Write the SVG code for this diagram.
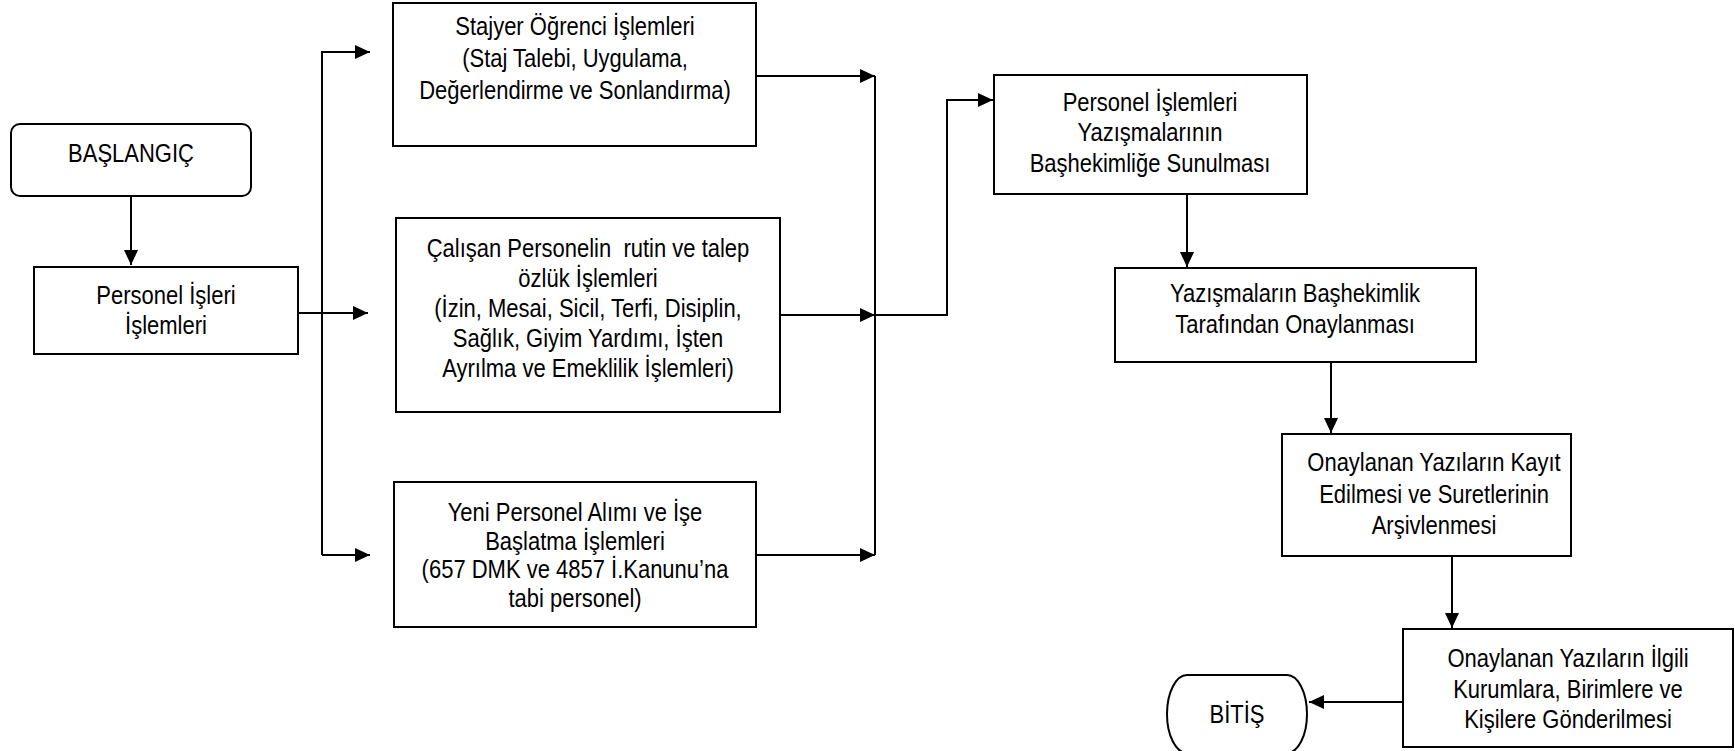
<svg xmlns="http://www.w3.org/2000/svg" width="1735" height="751" viewBox="0 0 1735 751">
<style>
.box{fill:#fff;stroke:#000;stroke-width:2}
.t{font-family:"Liberation Sans",Arial,sans-serif;font-size:25px;fill:#000;text-anchor:middle}
.c{fill:none;stroke:#000;stroke-width:2}
</style>
<defs>
<marker id="ah" markerUnits="userSpaceOnUse" markerWidth="16" markerHeight="14" refX="15" refY="7" orient="auto">
<path d="M0,0 L15,7 L0,14 Z" fill="#000"/>
</marker>
</defs>
<rect width="1735" height="751" fill="#fff"/>
<g id="connectors">
<path class="c" d="M131,196 V265" marker-end="url(#ah)"/>
<path class="c" d="M298,313 H368" marker-end="url(#ah)"/>
<path class="c" d="M322,555 V52 H370" marker-end="url(#ah)"/>
<path class="c" d="M322,555 H370" marker-end="url(#ah)"/>
<path class="c" d="M756,76 H875" marker-end="url(#ah)"/>
<path class="c" d="M780,315 H875" marker-end="url(#ah)"/>
<path class="c" d="M755,555 H875" marker-end="url(#ah)"/>
<path class="c" d="M875,76 V555"/>
<path class="c" d="M875,315 H947 V100 H993" marker-end="url(#ah)"/>
<path class="c" d="M1187,194 V267" marker-end="url(#ah)"/>
<path class="c" d="M1331,362 V433" marker-end="url(#ah)"/>
<path class="c" d="M1452,556 V628" marker-end="url(#ah)"/>
<path class="c" d="M1403,702 H1309" marker-end="url(#ah)"/>
</g>
<g id="start">
<rect class="box" x="11" y="124" width="240" height="72" rx="9"/>
<g transform="translate(131 0) scale(0.88 1)"><text class="t"><tspan x="0" y="162">BAŞLANGIÇ</tspan></text></g>
</g>
<g id="personel-isleri">
<rect class="box" x="34" y="267" width="264" height="87"/>
<g transform="translate(166 0) scale(0.88 1)"><text class="t"><tspan x="0" y="304">Personel İşleri</tspan><tspan x="0" y="334">İşlemleri</tspan></text></g>
</g>
<g id="stajyer">
<rect class="box" x="393" y="3" width="363" height="143"/>
<g transform="translate(575 0) scale(0.88 1)"><text class="t"><tspan x="0" y="35">Stajyer Öğrenci İşlemleri</tspan><tspan x="0" y="67">(Staj Talebi, Uygulama,</tspan><tspan x="0" y="99">Değerlendirme ve Sonlandırma)</tspan></text></g>
</g>
<g id="calisan">
<rect class="box" x="396" y="218" width="384" height="194"/>
<g transform="translate(588 0) scale(0.88 1)"><text class="t" xml:space="preserve"><tspan x="0" y="257">Çalışan Personelin  rutin ve talep</tspan><tspan x="0" y="287">özlük İşlemleri</tspan><tspan x="0" y="317">(İzin, Mesai, Sicil, Terfi, Disiplin,</tspan><tspan x="0" y="347">Sağlık, Giyim Yardımı, İşten</tspan><tspan x="0" y="377">Ayrılma ve Emeklilik İşlemleri)</tspan></text></g>
</g>
<g id="yeni-personel">
<rect class="box" x="394" y="482" width="362" height="145"/>
<g transform="translate(575 0) scale(0.88 1)"><text class="t"><tspan x="0" y="521">Yeni Personel Alımı ve İşe</tspan><tspan x="0" y="550">Başlatma İşlemleri</tspan><tspan x="0" y="578">(657 DMK ve 4857 İ.Kanunu’na</tspan><tspan x="0" y="607">tabi personel)</tspan></text></g>
</g>
<g id="sunulmasi">
<rect class="box" x="994" y="75" width="313" height="119"/>
<g transform="translate(1150 0) scale(0.88 1)"><text class="t"><tspan x="0" y="111">Personel İşlemleri</tspan><tspan x="0" y="141">Yazışmalarının</tspan><tspan x="0" y="172">Başhekimliğe Sunulması</tspan></text></g>
</g>
<g id="onaylanmasi">
<rect class="box" x="1115" y="268" width="361" height="94"/>
<g transform="translate(1295 0) scale(0.88 1)"><text class="t"><tspan x="0" y="302">Yazışmaların Başhekimlik</tspan><tspan x="0" y="333">Tarafından Onaylanması</tspan></text></g>
</g>
<g id="arsivlenmesi">
<rect class="box" x="1282" y="434" width="289" height="122"/>
<g transform="translate(1434 0) scale(0.88 1)"><text class="t"><tspan x="0" y="471">Onaylanan Yazıların Kayıt</tspan><tspan x="0" y="503">Edilmesi ve Suretlerinin</tspan><tspan x="0" y="534">Arşivlenmesi</tspan></text></g>
</g>
<g id="gonderilmesi">
<rect class="box" x="1403" y="629" width="330" height="118"/>
<g transform="translate(1568 0) scale(0.88 1)"><text class="t"><tspan x="0" y="667">Onaylanan Yazıların İlgili</tspan><tspan x="0" y="698">Kurumlara, Birimlere ve</tspan><tspan x="0" y="728">Kişilere Gönderilmesi</tspan></text></g>
</g>
<g id="bitis">
<rect class="box" x="1167" y="675" width="140" height="78" rx="20" ry="39"/>
<g transform="translate(1237 0) scale(0.88 1)"><text class="t"><tspan x="0" y="723">BİTİŞ</tspan></text></g>
</g>
</svg>
